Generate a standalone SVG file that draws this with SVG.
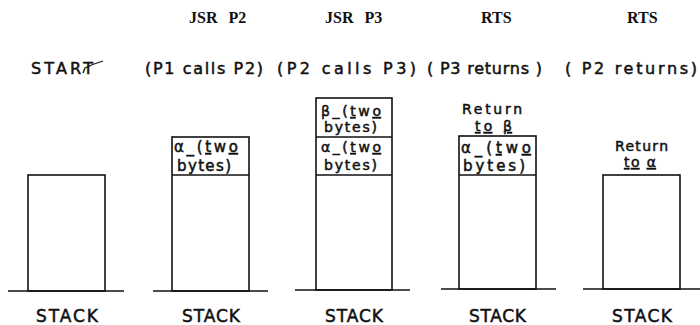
<svg xmlns="http://www.w3.org/2000/svg" width="700" height="325" viewBox="0 0 700 325">
<style>
.box{fill:none;stroke:#111;stroke-width:1.6}
.gnd{stroke:#111;stroke-width:1.6}
.op{font-family:"Liberation Serif",serif;font-weight:bold;font-size:16px;fill:#111;word-spacing:7px}
.lbl,.cell,.stk{font-family:"DejaVu Sans","Liberation Sans",sans-serif;fill:#111;stroke:#111;stroke-width:0.5}
.lbl{font-size:16px}
.cell{font-size:15px}
.sm{font-size:14px}
.stk{font-size:17px}
.u{text-decoration:underline}
</style>
<rect width="700" height="325" fill="#fff"/>

<g id="stack1">
<line class="gnd" x1="8" y1="291" x2="124" y2="291"/>
<rect class="box" x="28" y="175" width="77" height="116"/>
<text class="lbl" x="31" y="74" textLength="62" lengthAdjust="spacing">START</text>
<path d="M83 73 L85 68 Q93 64 103 61" fill="none" stroke="#111" stroke-width="1.3"/>
<text class="stk" x="36" y="322" textLength="62" lengthAdjust="spacing">STACK</text>
</g>

<g id="stack2">
<text class="op" x="189" y="23">JSR P2</text>
<text class="lbl" x="145" y="74" textLength="118" lengthAdjust="spacing">(P1 calls P2)</text>
<line class="gnd" x1="153" y1="291" x2="268" y2="291"/>
<rect class="box" x="172" y="137" width="77" height="154"/>
<line class="gnd" x1="172" y1="175" x2="249" y2="175"/>
<text class="cell" x="174" y="152" textLength="64" lengthAdjust="spacing">α_(<tspan class="u">t</tspan>w<tspan class="u">o</tspan></text>
<text class="cell" x="177" y="171" textLength="54" lengthAdjust="spacing">bytes)</text>
<text class="stk" x="182" y="322" textLength="58" lengthAdjust="spacing">STACK</text>
</g>

<g id="stack3">
<text class="op" x="325" y="23">JSR P3</text>
<text class="lbl" x="277" y="74" textLength="139" lengthAdjust="spacing">(P2 calls P3)</text>
<line class="gnd" x1="295" y1="290" x2="410" y2="290"/>
<rect class="box" x="316" y="98" width="76" height="192"/>
<line class="gnd" x1="316" y1="137" x2="392" y2="137"/>
<line class="gnd" x1="316" y1="175" x2="392" y2="175"/>
<text class="cell sm" x="321" y="116" textLength="60" lengthAdjust="spacing">β_(<tspan class="u">t</tspan>w<tspan class="u">o</tspan></text>
<text class="cell sm" x="324" y="132" textLength="53" lengthAdjust="spacing">bytes)</text>
<text class="cell sm" x="321" y="152" textLength="60" lengthAdjust="spacing">α_(<tspan class="u">t</tspan>w<tspan class="u">o</tspan></text>
<text class="cell sm" x="324" y="170" textLength="53" lengthAdjust="spacing">bytes)</text>
<text class="stk" x="325" y="322" textLength="58" lengthAdjust="spacing">STACK</text>
</g>

<g id="stack4">
<text class="op" x="481" y="23">RTS</text>
<text class="lbl" x="427" y="74" textLength="115" lengthAdjust="spacing">( P3 returns )</text>
<text class="cell sm" x="462" y="114" textLength="60" lengthAdjust="spacing">Return</text>
<text class="cell sm" x="475" y="131" textLength="37" lengthAdjust="spacing"><tspan class="u">to</tspan> <tspan class="u">β</tspan></text>
<line class="gnd" x1="441" y1="289" x2="556" y2="289"/>
<rect class="box" x="459" y="136" width="77" height="153"/>
<line class="gnd" x1="459" y1="175" x2="536" y2="175"/>
<text class="cell" x="461" y="153" textLength="70" lengthAdjust="spacing">α_(<tspan class="u">t</tspan>w<tspan class="u">o</tspan></text>
<text class="cell" x="463" y="171" textLength="62" lengthAdjust="spacing">bytes)</text>
<text class="stk" x="469" y="322" textLength="57" lengthAdjust="spacing">STACK</text>
</g>

<g id="stack5">
<text class="op" x="627" y="23">RTS</text>
<text class="lbl" x="565" y="74" textLength="132" lengthAdjust="spacing">( P2 returns)</text>
<text class="cell sm" x="615" y="151" textLength="53" lengthAdjust="spacing">Return</text>
<text class="cell sm" x="624" y="167" textLength="32" lengthAdjust="spacing"><tspan class="u">to</tspan> <tspan class="u">α</tspan></text>
<line class="gnd" x1="583" y1="289" x2="700" y2="289"/>
<rect class="box" x="603" y="175" width="77" height="114"/>
<text class="stk" x="612" y="322" textLength="60" lengthAdjust="spacing">STACK</text>
</g>
</svg>
